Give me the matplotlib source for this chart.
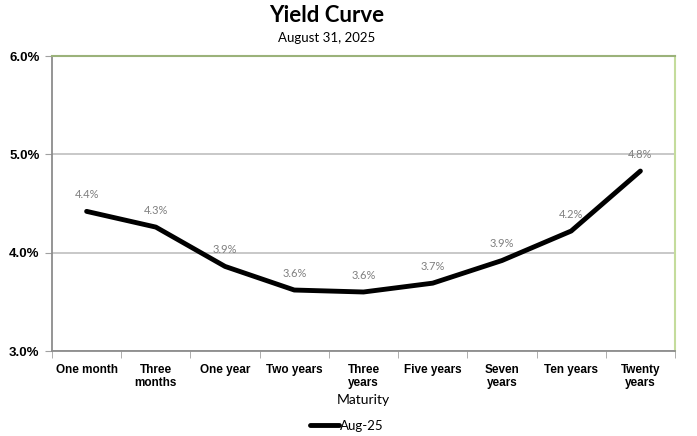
import numpy as np
import matplotlib.pyplot as plt
from matplotlib.ticker import FuncFormatter

maturities = ['One month', 'Three\nmonths', 'One year', 'Two years', 'Three\nyears',
              'Five years', 'Seven\nyears', 'Ten years', 'Twenty\nyears']
yields = [4.42, 4.26, 3.86, 3.62, 3.60, 3.69, 3.92, 4.22, 4.83]
series_name = 'Aug-25'

plt.rcParams['font.family'] = ['Lato', 'DejaVu Sans']

fig = plt.figure(figsize=(6.97, 4.36), dpi=100)
ax = fig.add_axes([52 / 697, 1 - 351 / 436, 623 / 697, 295 / 436])

x = np.arange(len(yields))
line, = ax.plot(x, yields, color='black', lw=3.5, solid_capstyle='round',
                solid_joinstyle='round', label=series_name)

for xi, yi in zip(x, yields):
    ax.annotate(f'{yi:.1f}%', (xi, yi), xytext=(0, 8), textcoords='offset points',
                ha='center', va='bottom', fontsize=8, color='#7f7f7f')

ax.set_xlim(-0.5, len(yields) - 0.5)
ax.set_ylim(3.0, 6.0)
ax.set_yticks([3, 4, 5, 6])
ax.yaxis.set_major_formatter(FuncFormatter(lambda v, p: f'{v:.1f}%'))
ax.grid(axis='y', color='#bfbfbf', lw=1.2)
ax.set_axisbelow(True)

ax.set_xticks(x)
ax.set_xticklabels(maturities, fontsize=8.5, fontweight='bold',
                   family=['Liberation Sans Narrow', 'Liberation Sans', 'DejaVu Sans'],
                   linespacing=1.15)
ax.set_xticks(np.arange(-0.5, len(yields)), minor=True)
ax.tick_params(axis='x', which='major', length=0, pad=9)
ax.tick_params(axis='x', which='minor', length=5, color='#a0a0a0', direction='out')
ax.tick_params(axis='y', length=5, color='#a0a0a0', labelsize=9.5, pad=4)
for lab in ax.get_yticklabels():
    lab.set_fontweight('bold')
    lab.set_family(['Liberation Sans', 'DejaVu Sans'])

for side in ['left', 'bottom']:
    ax.spines[side].set_color('#8c8c8c')
    ax.spines[side].set_linewidth(1.3)
ax.spines['top'].set_color('#9bb27a')
ax.spines['top'].set_linewidth(1.5)
ax.spines['right'].set_color('#c4dc9c')
ax.spines['right'].set_linewidth(1.5)

ax.set_xlabel('Maturity', fontsize=10, labelpad=4)

fig.text(327 / 697, 1 - 15 / 436, 'Yield Curve', ha='center', va='center',
         fontsize=16, fontweight='bold')
fig.text(327 / 697, 1 - 38 / 436, 'August 31, 2025', ha='center',
         va='center', fontsize=9.5)

fig.legend(handles=[line], loc='center', bbox_to_anchor=(347 / 697, 1 - 426 / 436),
           frameon=False, fontsize=9.5, handlelength=2.2, handletextpad=0.1)

fig.savefig('out.png', dpi=100)
